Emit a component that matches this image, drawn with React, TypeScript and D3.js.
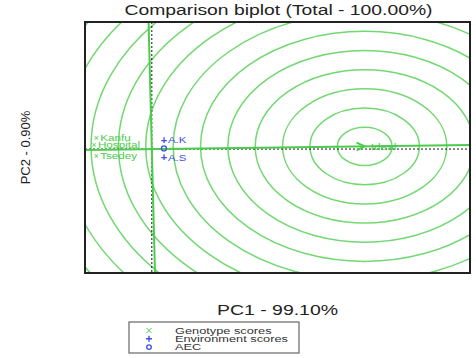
import React from "react";
import * as d3 from "d3";

const title = "Comparison biplot (Total - 100.00%)";
const xLabel = "PC1 - 99.10%";
const yLabel = "PC2 - 0.90%";

const genotypes = ["Kanfu", "Hospital", "Tsedey"];
const genoPC1 = [-1.75, -1.82, -1.75];
const genoPC2 = [0.5, 0.18, -0.32];

const environments = ["A.K", "A.S"];
const envPC1 = [0.38, 0.38];
const envPC2 = [0.42, -0.36];

const idealPoint = [6.69, 0.12];
const idealLabel = "Ideal";
const ringStep = 0.86;
const ringCount = 14;

const xDomain = [-2.1, 10];
const yDomain = [-5.56, 5.7];

const legendLabels = ["Genotype scores", "Environment scores", "AEC"];

const W = 476, H = 358;
const L = 85, R = 470, T = 22, B = 273;

function SText({ x, y, sx = 1, anchor = "start", size, fill, children }: any) {
  return (
    <text transform={`translate(${x},${y}) scale(${sx},1)`} textAnchor={anchor} fontSize={size} fill={fill}>
      {children}
    </text>
  );
}

export default function App() {
  const x = d3.scaleLinear().domain(xDomain).range([L, R]);
  const y = d3.scaleLinear().domain(yDomain).range([B, T]);
  const sx = x(1) - x(0);
  const sy = y(0) - y(1);
  const green = "#4ccc4c";
  const ringGreen = "#72d872";
  const blue = "#3b4fe0";
  const font = "Liberation Sans, Arial, sans-serif";

  const rings = d3.range(1, ringCount + 1).map((k) => k * ringStep);
  const aec = [d3.mean(envPC1)!, d3.mean(envPC2)!];
  const slope = idealPoint[1] / idealPoint[0];
  const aecLine = [
    [xDomain[0], slope * xDomain[0]],
    [xDomain[1], slope * xDomain[1]],
  ];
  const perpLine = [
    [-slope * yDomain[0], yDomain[0]],
    [-slope * yDomain[1], yDomain[1]],
  ];
  const line = d3.line<number[]>().x((d) => x(d[0])).y((d) => y(d[1]));

  const ax = x(idealPoint[0]);
  const ay = y(idealPoint[1]);
  const ang = Math.atan2(ay - y(0), ax - x(0));
  const hl = 9;
  const h1 = [ax - hl * Math.cos(ang - 0.45), ay - hl * Math.sin(ang - 0.45)];
  const h2 = [ax - hl * Math.cos(ang + 0.45), ay - hl * Math.sin(ang + 0.45)];

  return (
    <svg width={W} height={H} style={{ position: "absolute", left: 0, top: 0, background: "#fff" }} fontFamily={font}>
      <defs>
        <clipPath id="plotclip">
          <rect x={L} y={T} width={R - L} height={B - T} />
        </clipPath>
      </defs>
      <SText x={(L + R) / 2 + 1} y={15} sx={1.38} anchor="middle" size={14} fill="#222">{title}</SText>
      <g clipPath="url(#plotclip)">
        {rings.map((r, i) => (
          <ellipse key={i} cx={x(idealPoint[0])} cy={y(idealPoint[1])} rx={r * sx} ry={r * sy}
            fill="none" stroke={ringGreen} strokeWidth={1.5} />
        ))}
        <line x1={L} x2={R} y1={y(0)} y2={y(0)} stroke="#111" strokeWidth={1} strokeDasharray="2,2" />
        <line x1={x(0)} x2={x(0)} y1={T} y2={B} stroke="#111" strokeWidth={1} strokeDasharray="2,2" />
        <path d={line(aecLine)!} stroke={green} strokeWidth={2} fill="none" />
        <path d={line(perpLine)!} stroke={green} strokeWidth={2} fill="none" />
        <path d={`M${h1[0]},${h1[1]}L${ax},${ay}L${h2[0]},${h2[1]}`} stroke={green} strokeWidth={2} fill="none" />
        <SText x={ax + 6} y={ay + 4} sx={1.25} size={9.5} fill={green}>{idealLabel}</SText>
        {genotypes.map((g, i) => (
          <g key={g}>
            <text x={x(genoPC1[i])} y={y(genoPC2[i]) + 3} fontSize={8.5} fill={green} textAnchor="middle">×</text>
            <SText x={x(genoPC1[i]) + 4} y={y(genoPC2[i]) + 3.2} sx={1.3} size={9} fill={green}>{g}</SText>
          </g>
        ))}
        {environments.map((e, i) => (
          <g key={e}>
            <text x={x(envPC1[i])} y={y(envPC2[i]) + 4} fontSize={11} fontWeight="bold" fill={blue} textAnchor="middle">+</text>
            <SText x={x(envPC1[i]) + 4} y={y(envPC2[i]) + 3.5} sx={1.2} size={9.5} fill={blue}>{e}</SText>
          </g>
        ))}
        <circle cx={x(aec[0])} cy={y(aec[1])} r={2.5} fill="none" stroke={blue} strokeWidth={1.3} />
      </g>
      <rect x={L} y={T} width={R - L} height={B - T} fill="none" stroke="#222" strokeWidth={2} />
      <SText x={(L + R) / 2} y={315} sx={1.39} anchor="middle" size={14} fill="#222">{xLabel}</SText>
      <text transform={`translate(30,${(T + B) / 2}) rotate(-90)`} textAnchor="middle" fontSize={13} fill="#222">{yLabel}</text>
      <g>
        <rect x={129} y={322} width={170} height={31} fill="#fff" stroke="#666" strokeWidth={1.2} />
        {legendLabels.map((lab, i) => {
          const ly = 330.5 + i * 8.3;
          return (
            <g key={lab}>
              {i === 0 && (
                <path d={`M${146.5},${ly - 2.5}L${151.5},${ly + 2.5}M${151.5},${ly - 2.5}L${146.5},${ly + 2.5}`}
                  stroke={green} strokeWidth={1} />
              )}
              {i === 1 && (
                <path d={`M${146},${ly}L${152},${ly}M${149},${ly - 3}L${149},${ly + 3}`} stroke={blue} strokeWidth={1.4} />
              )}
              {i === 2 && <circle cx={149} cy={ly} r={2.3} fill="none" stroke={blue} strokeWidth={1.3} />}
              <SText x={175} y={ly + 3.2} sx={1.42} size={9} fill="#333">{lab}</SText>
            </g>
          );
        })}
      </g>
    </svg>
  );
}
